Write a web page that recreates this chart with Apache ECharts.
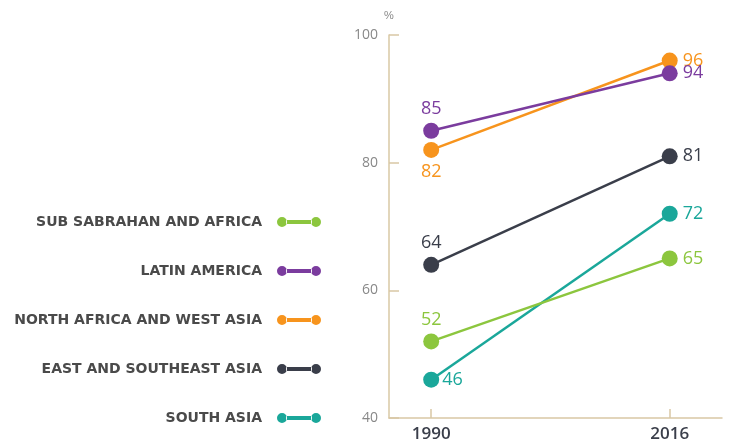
<!DOCTYPE html>
<html><head><meta charset="utf-8">
<script src="https://cdn.jsdelivr.net/npm/echarts@6/dist/echarts.min.js"></script>
<style>html,body{margin:0;padding:0;background:#fff}#c{width:729px;height:447px}</style>
</head><body><div id="c"></div>
<script>
var years = [1990, 2016];
var seriesNames = ['SUB SABRAHAN AND AFRICA','LATIN AMERICA','NORTH AFRICA AND WEST ASIA','EAST AND SOUTHEAST ASIA','SOUTH ASIA'];
var subSaharan = [52, 65];
var latinAmerica = [85, 94];
var northAfrica = [82, 96];
var eastAsia = [64, 81];
var southAsia = [46, 72];
var yTicks = [40, 60, 80, 100];

var values = [subSaharan, latinAmerica, northAfrica, eastAsia, southAsia];
var colors = ['#8cc63e', '#7b3c9e', '#f7941d', '#3a3e4a', '#1aa79a'];
var startLabelPos = ['top', 'top', 'bottom', 'top', 'right'];

var iconPath = 'path://M0,5a5,5 0 1,0 10,0a5,5 0 1,0 -10,0Z M34,5a5,5 0 1,0 10,0a5,5 0 1,0 -10,0Z M9,3L35,3L35,7L9,7Z';

var series = seriesNames.map(function(name, i){
  return {
    name: name,
    type: 'line',
    color: colors[i],
    symbol: 'circle',
    symbolSize: 16,
    lineStyle: {width: 2.5, color: colors[i]},
    itemStyle: {color: colors[i]},
    z: 10 - i,
    label: {show: true, fontSize: 18, color: colors[i], fontFamily: 'Open Sans', fontWeight: 500, distance: 5},
    data: years.map(function(y, j){
      return {value: [y, values[i][j]], label: {position: j === 0 ? startLabelPos[i] : 'right', distance: j===0 && startLabelPos[i]==='right' ? 3 : 5}};
    })
  };
});

var chart = echarts.init(document.getElementById('c'));
chart.setOption({
  animation: false,
  grid: {left: 389, top: 35, right: 7, bottom: 29, containLabel: false},
  legend: {
    orient: 'vertical',
    right: 408,
    top: 214,
    padding: 0,
    align: 'right',
    itemGap: 33,
    itemWidth: 44,
    itemHeight: 11,
    icon: iconPath,
    data: seriesNames.map(function(n, i){ return {name: n, itemStyle: {color: colors[i]}}; }),
    textStyle: {fontFamily: 'DejaVu Sans', fontWeight: 'bold', fontSize: 14, color: '#4a4a4a', lineHeight: 16, padding: [0, 10, 0, 0]}
  },
  xAxis: {
    type: 'value',
    min: 1985.4,
    max: 2021.7,
    splitLine: {show: false},
    axisLine: {show: true, lineStyle: {color: '#d9c8a5', width: 1.5}},
    axisTick: {show: true, inside: true, length: 9, customValues: years, lineStyle: {color: '#d9c8a5', width: 1.5}},
    axisLabel: {customValues: years, fontSize: 17, color: '#3a3e4a', fontFamily: 'Open Sans', fontWeight: 600, margin: 8, formatter: function(v){return String(v);}}
  },
  yAxis: {
    type: 'value',
    min: 40,
    max: 100,
    interval: 20,
    name: '%',
    nameLocation: 'end',
    nameGap: 14,
    nameTextStyle: {color: '#888', fontSize: 11, align: 'center'},
    splitLine: {show: false},
    axisLine: {show: true, lineStyle: {color: '#d9c8a5', width: 1.5}},
    axisTick: {show: true, inside: true, length: 10, lineStyle: {color: '#d9c8a5', width: 1.5}},
    axisLabel: {color: '#888', fontSize: 14, margin: 11, fontFamily: 'Open Sans'}
  },
  series: series
});
</script>
</body></html>
